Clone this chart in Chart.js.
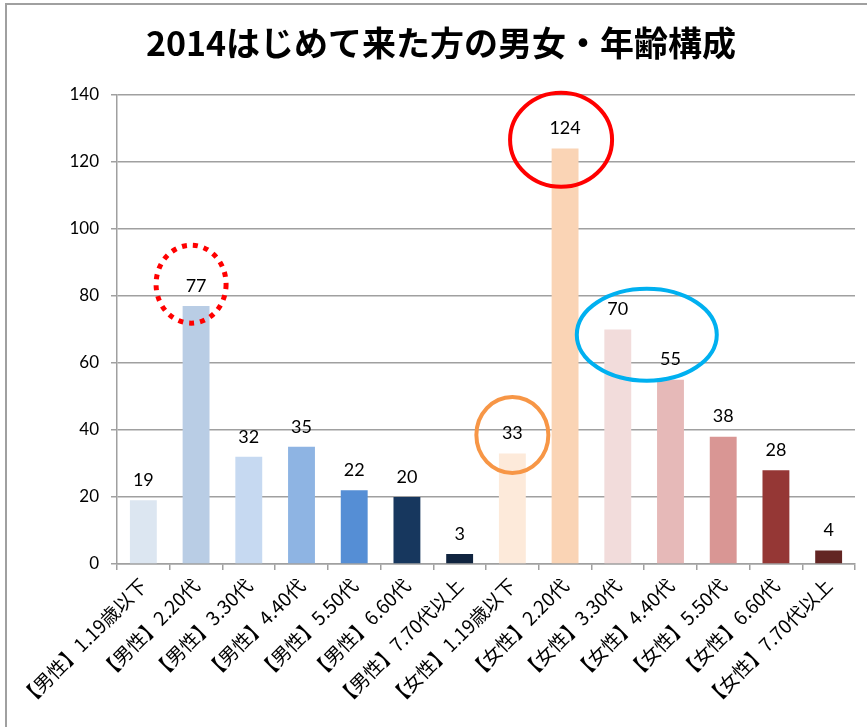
<!DOCTYPE html>
<html>
<head>
<meta charset="utf-8">
<script src="https://cdn.jsdelivr.net/npm/chart.js@4"></script>
<style>
  html, body { margin: 0; padding: 0; background: #fff; }
  #wrap { width: 867px; height: 727px; position: relative; }
</style>
</head>
<body>
<div id="wrap"><canvas id="chart"></canvas></div>
<script>
const chartTitle = '2014はじめて来た方の男女・年齢構成';
const categories = [
  '【男性】1.19歳以下', '【男性】2.20代', '【男性】3.30代', '【男性】4.40代',
  '【男性】5.50代', '【男性】6.60代', '【男性】7.70代以上',
  '【女性】1.19歳以下', '【女性】2.20代', '【女性】3.30代', '【女性】4.40代',
  '【女性】5.50代', '【女性】6.60代', '【女性】7.70代以上'
];
const counts = [19, 77, 32, 35, 22, 20, 3, 33, 124, 70, 55, 38, 28, 4];
const yTickMin = 0;
const yTickMax = 140;
const yTickStep = 20;

const barColors = [
  '#DCE6F1', '#B9CDE5', '#C6D9F1', '#8EB4E3', '#558ED5', '#17375E', '#10243F',
  '#FDEADA', '#FAD4B5', '#F2DCDB', '#E6B9B8', '#D99694', '#953735', '#632523'
];

// hand drawn highlight rings (centre in category index / value units)
const highlights = [
  { index: 1, dx: -5, value: 83.5, rx: 35, ry: 39, color: '#FF0000', width: 5, dash: [5, 6] },
  { index: 8, dx: -4, value: 126.6, rx: 51, ry: 47, color: '#FF0000', width: 4, dash: [] },
  { index: 9, dx: 29, value: 68.4, rx: 70, ry: 46, color: '#00B0F0', width: 4, dash: [] },
  { index: 7, dx: 0, value: 38.5, rx: 36, ry: 38, color: '#F79646', width: 4, dash: [] }
];

const frame = {
  id: 'frame',
  beforeDraw(chart) {
    const c = chart.ctx;
    c.save();
    c.fillStyle = '#fff';
    c.fillRect(0, 0, chart.width, chart.height);
    c.strokeStyle = '#a0a0a0';
    c.lineWidth = 2;
    c.beginPath();
    c.moveTo(6, chart.height);
    c.lineTo(6, 4);
    c.lineTo(chart.width, 4);
    c.stroke();
    c.restore();
  }
};

const valueLabels = {
  id: 'valueLabels',
  afterDatasetsDraw(chart) {
    const c = chart.ctx;
    const meta = chart.getDatasetMeta(0);
    c.save();
    c.font = '18px Lato, "Open Sans", sans-serif';
    c.fillStyle = '#000';
    c.textAlign = 'center';
    c.textBaseline = 'middle';
    meta.data.forEach((bar, i) => {
      c.fillText(String(counts[i]), bar.x, bar.y - 20);
    });
    c.restore();
  }
};

const rings = {
  id: 'rings',
  afterDraw(chart) {
    const c = chart.ctx;
    const xs = chart.scales.x, ys = chart.scales.y;
    c.save();
    highlights.forEach(h => {
      const cx = xs.getPixelForValue(h.index) + h.dx;
      const cy = ys.getPixelForValue(h.value);
      c.strokeStyle = h.color;
      c.lineWidth = h.width;
      c.setLineDash(h.dash);
      c.beginPath();
      c.ellipse(cx, cy, h.rx, h.ry, 0, 0, Math.PI * 2);
      c.stroke();
    });
    c.restore();
  }
};

new Chart(document.getElementById('chart'), {
  type: 'bar',
  data: {
    labels: categories,
    datasets: [{
      data: counts,
      backgroundColor: barColors,
      borderWidth: 0,
      barPercentage: 0.51,
      categoryPercentage: 1
    }]
  },
  options: {
    responsive: true,
    maintainAspectRatio: false,
    animation: false,
    layout: { padding: { left: 27, right: 12, top: 0, bottom: 0 } },
    plugins: {
      legend: { display: false },
      tooltip: { enabled: false },
      title: {
        display: true,
        text: chartTitle,
        color: '#000',
        font: { family: '"Noto Sans CJK JP", sans-serif', size: 34, weight: 'bold' },
        padding: { top: 23, bottom: 31 }
      }
    },
    scales: {
      x: {
        grid: {
          drawOnChartArea: false,
          drawTicks: true,
          tickLength: 6,
          color: '#a0a0a0',
          lineWidth: 1.5,
          offset: true
        },
        border: { color: '#a0a0a0', width: 1.5 },
        ticks: {
          color: '#000',
          minRotation: 45,
          maxRotation: 45,
          autoSkip: false,
          padding: 4,
          font: { family: '"Noto Sans CJK JP", sans-serif', size: 19 }
        },
        afterFit(scale) { scale.height = 163; }
      },
      y: {
        min: yTickMin,
        max: yTickMax,
        grid: { color: '#a0a0a0', lineWidth: 1.5, tickLength: 6 },
        border: { color: '#a0a0a0', width: 1.5 },
        ticks: {
          stepSize: yTickStep,
          color: '#000',
          padding: 12,
          font: { family: 'Lato, "Open Sans", sans-serif', size: 17 }
        },
        afterFit(scale) { scale.width = 90; }
      }
    }
  },
  plugins: [frame, valueLabels, rings]
});
</script>
</body>
</html>
